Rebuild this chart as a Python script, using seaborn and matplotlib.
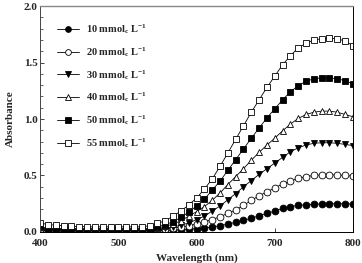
"""Absorbance spectra for several concentrations."""
import numpy as np
import pandas as pd
import matplotlib
matplotlib.use("Agg")
import matplotlib.pyplot as plt
import seaborn as sns

wavelength = list(range(400, 801, 10))

# absorbance, 400..800 nm every 10 nm
abs_10 = [0.015, 0.01, 0.01, 0.01, 0.01, 0.01, 0.01, 0.01, 0.01, 0.01,
          0.01, 0.01, 0.01, 0.01, 0.01, 0.01, 0.015, 0.015, 0.02, 0.025,
          0.03, 0.035, 0.045, 0.055, 0.07, 0.085, 0.105, 0.12, 0.145, 0.165,
          0.185, 0.21, 0.225, 0.235, 0.24, 0.245, 0.248, 0.25, 0.25, 0.25,
          0.248]
abs_20 = [0.025, 0.015, 0.015, 0.015, 0.015, 0.015, 0.015, 0.015, 0.015, 0.015,
          0.015, 0.015, 0.015, 0.015, 0.015, 0.02, 0.025, 0.035, 0.045, 0.055,
          0.07, 0.09, 0.11, 0.135, 0.165, 0.195, 0.235, 0.28, 0.32, 0.355,
          0.39, 0.425, 0.45, 0.475, 0.49, 0.50, 0.505, 0.505, 0.505, 0.50,
          0.495]
abs_30 = [0.03, 0.02, 0.02, 0.02, 0.02, 0.02, 0.02, 0.02, 0.02, 0.02,
          0.02, 0.02, 0.02, 0.02, 0.02, 0.025, 0.035, 0.045, 0.06, 0.08,
          0.11, 0.14, 0.185, 0.23, 0.285, 0.34, 0.40, 0.455, 0.51, 0.56,
          0.61, 0.66, 0.71, 0.745, 0.77, 0.785, 0.79, 0.79, 0.785, 0.775,
          0.765]
abs_40 = [0.04, 0.025, 0.025, 0.025, 0.025, 0.025, 0.025, 0.025, 0.025, 0.025,
          0.025, 0.025, 0.025, 0.025, 0.025, 0.035, 0.05, 0.07, 0.10, 0.14,
          0.18, 0.225, 0.28, 0.345, 0.42, 0.49, 0.56, 0.635, 0.705, 0.77,
          0.83, 0.895, 0.955, 1.005, 1.04, 1.06, 1.07, 1.07, 1.06, 1.04,
          1.02]
abs_50 = [0.05, 0.03, 0.03, 0.03, 0.03, 0.03, 0.03, 0.03, 0.03, 0.03,
          0.03, 0.03, 0.03, 0.03, 0.03, 0.045, 0.065, 0.09, 0.13, 0.175,
          0.23, 0.29, 0.37, 0.45, 0.545, 0.64, 0.735, 0.83, 0.92, 1.01,
          1.09, 1.17, 1.24, 1.295, 1.335, 1.355, 1.365, 1.365, 1.355, 1.34,
          1.31]
abs_55 = [0.08, 0.065, 0.06, 0.055, 0.05, 0.048, 0.045, 0.045, 0.045, 0.045,
          0.045, 0.045, 0.045, 0.045, 0.055, 0.075, 0.10, 0.14, 0.185, 0.24,
          0.30, 0.38, 0.47, 0.58, 0.70, 0.82, 0.94, 1.06, 1.17, 1.28,
          1.38, 1.48, 1.56, 1.63, 1.67, 1.70, 1.71, 1.715, 1.71, 1.69,
          1.65]

labels = ["10 mmol$_c$ L$^{-1}$", "20 mmol$_c$ L$^{-1}$", "30 mmol$_c$ L$^{-1}$",
          "40 mmol$_c$ L$^{-1}$", "50 mmol$_c$ L$^{-1}$", "55 mmol$_c$ L$^{-1}$"]
series = [abs_10, abs_20, abs_30, abs_40, abs_50, abs_55]
markers = ["o", "o", "v", "^", "s", "s"]
filled = [True, False, True, False, True, False]

sns.set_style("ticks")
plt.rcParams["font.family"] = ["Liberation Serif", "DejaVu Serif"]
plt.rcParams["mathtext.fontset"] = "custom"
plt.rcParams["mathtext.rm"] = "Liberation Serif:bold"
plt.rcParams["mathtext.it"] = "Liberation Serif:bold"
plt.rcParams["font.weight"] = "bold"

fig, ax = plt.subplots(figsize=(3.62, 2.63), dpi=100)
fig.subplots_adjust(left=0.111, right=0.975, bottom=0.118, top=0.977)

for vals, lab, mk, fl in zip(series, labels, markers, filled):
    df = pd.DataFrame({"wl": wavelength, "a": vals})
    sns.lineplot(x="wl", y="a", data=df, ax=ax, color="black", lw=0.6,
                 marker=mk, markersize=4.9, markeredgewidth=0.6,
                 markeredgecolor="black",
                 markerfacecolor="black" if fl else "white", label=lab)

ax.set_xlim(400, 800)
ax.set_ylim(0, 2.0)
ax.set_xticks([400, 500, 600, 700, 800])
ax.set_yticks([0.0, 0.5, 1.0, 1.5, 2.0])
ax.set_yticks(np.arange(0, 2.01, 0.1), minor=True)
ax.tick_params(direction="in", length=3, width=0.6, labelsize=8, pad=2)
ax.tick_params(axis="x", pad=5)
ax.tick_params(which="minor", direction="in", length=1.8, width=0.5)
ax.tick_params(top=False, right=False)
for s in ["left", "bottom", "right"]:
    ax.spines[s].set_linewidth(0.7)
    ax.spines[s].set_color("black")
ax.spines["top"].set_color("#888888")
ax.spines["top"].set_linewidth(1.0)
ax.spines["left"].set_color("#444444")

ax.set_xlabel("Wavelength (nm)", fontsize=8, fontweight="bold", labelpad=4)
ax.set_ylabel("Absorbance", fontsize=8, fontweight="bold", labelpad=6)

leg = ax.legend(loc="upper left", frameon=False, fontsize=7.5, handlelength=2.1,
                handletextpad=0.6, labelspacing=0.85, markerscale=0.85,
                bbox_to_anchor=(0.025, 0.97))

fig.savefig("out.png", dpi=100)
